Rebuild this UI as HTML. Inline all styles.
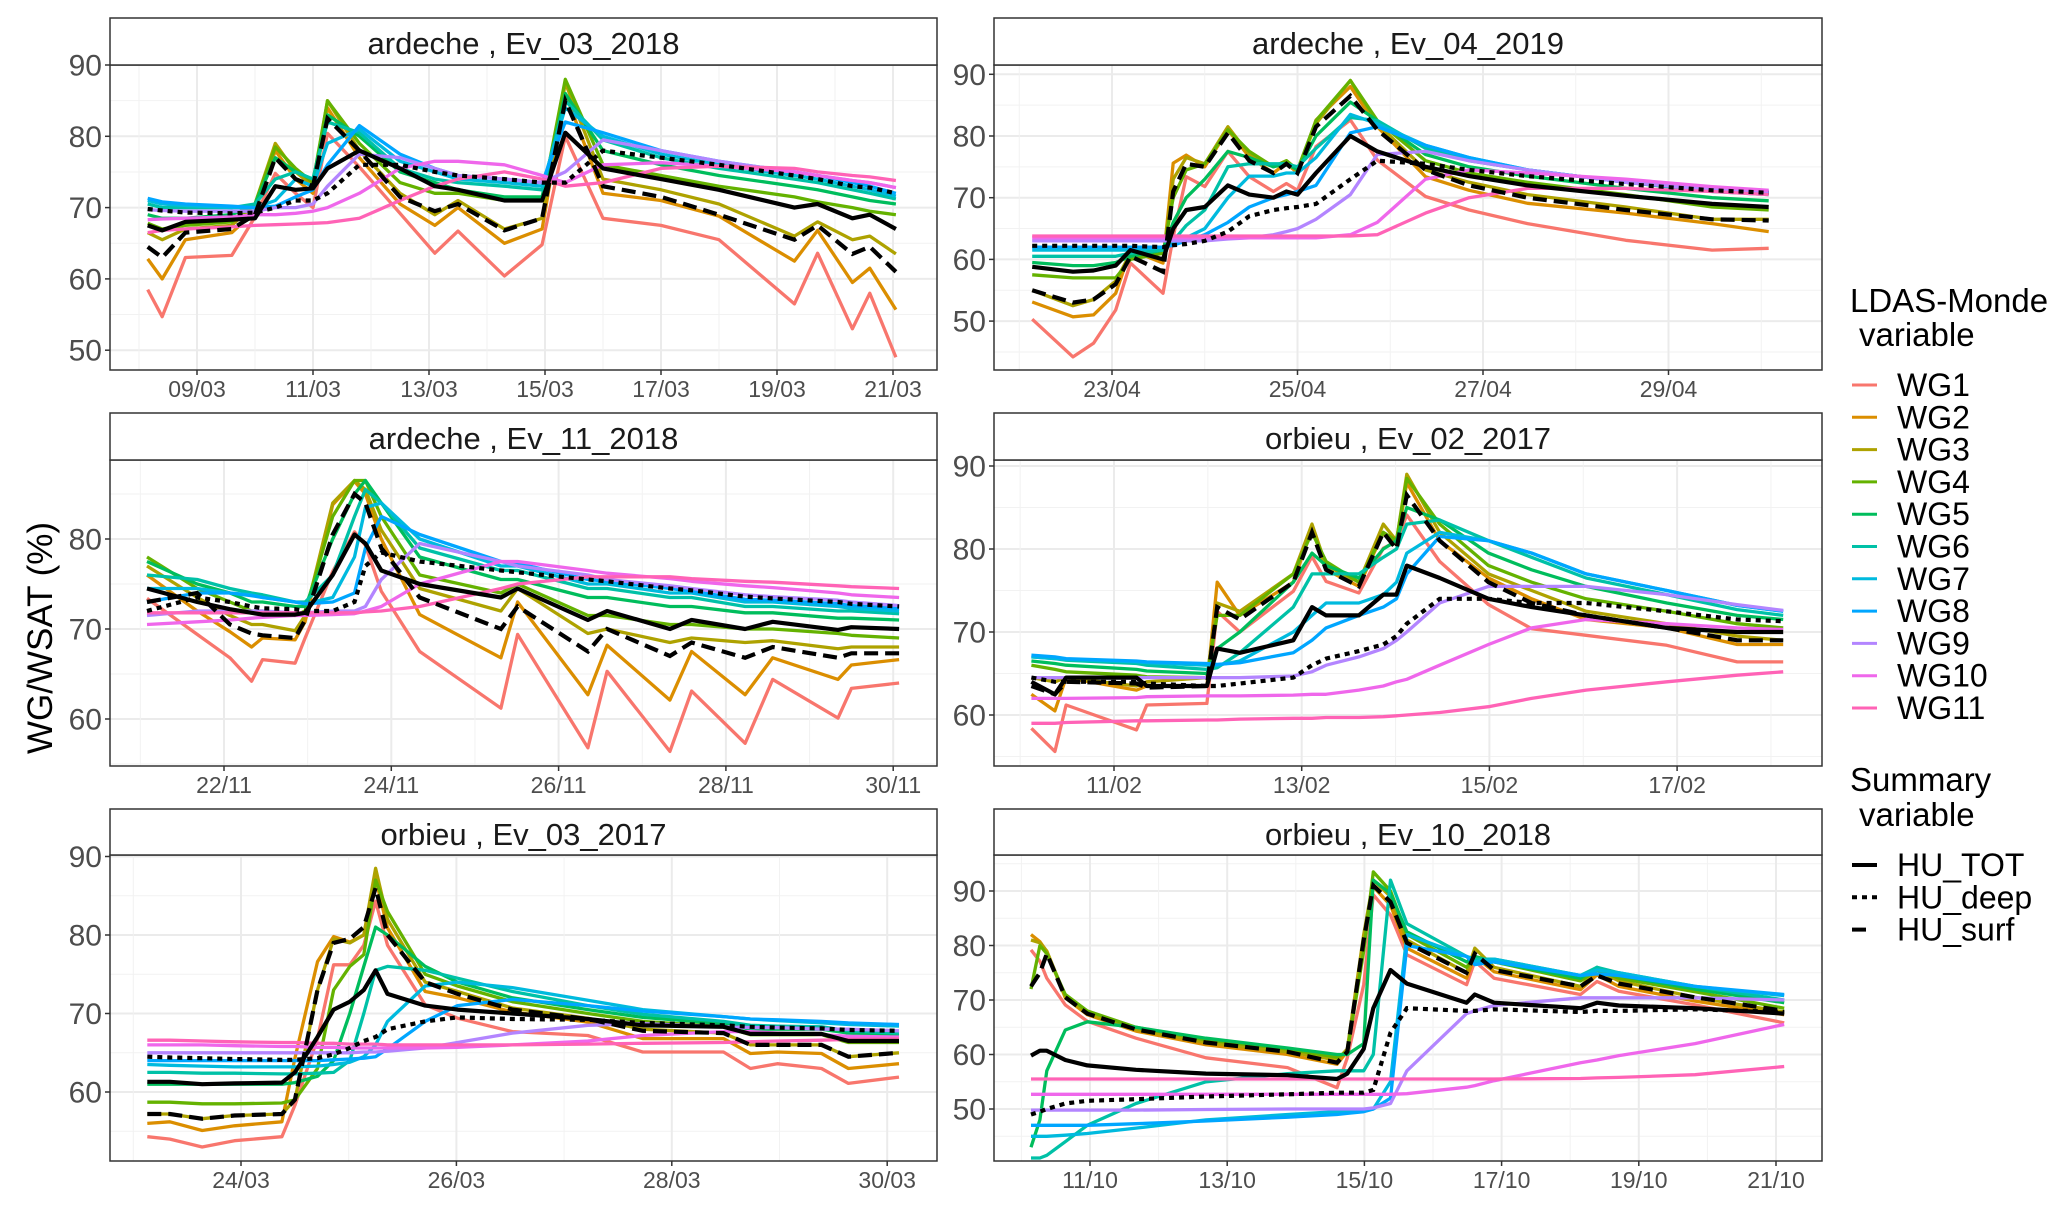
<!DOCTYPE html>
<html><head><meta charset="utf-8"><title>LDAS-Monde soil moisture events</title>
<style>
html,body{margin:0;padding:0;background:#fff;}
svg{display:block;font-family:"Liberation Sans",Arial,sans-serif;}
.tick{fill:#4d4d4d;}
</style></head>
<body>
<svg id="chart" width="2067" height="1206" viewBox="0 0 2067 1206" xmlns="http://www.w3.org/2000/svg">
<rect width="2067" height="1206" fill="#fff"/>
<text transform="translate(52,638) rotate(-90)" text-anchor="middle" font-size="35" fill="#000">WG/WSAT (%)</text>
<g id="panels"></g>
<g id="legend"></g>
</svg>
<script>
const COLORS = ["#F8766D","#DB8E00","#AEA200","#64B200","#00BD5C","#00C1A7","#00BADE","#00A6FF","#B385FF","#EF67EB","#FF63B6"];
const WG_NAMES = ["WG1","WG2","WG3","WG4","WG5","WG6","WG7","WG8","WG9","WG10","WG11"];

// ---- Panel 1: ardeche Ev_03_2018 (t = days since 09/03)
const P1_T = [-0.85,-0.6,-0.2,0.6,1.0,1.35,1.7,2.0,2.25,2.8,3.5,4.1,4.5,5.3,5.95,6.35,7.0,8.0,9.0,10.3,10.7,11.3,11.6,12.05];
const P1_WG = [
[58.5,54.7,63,63.3,68.7,74.8,72,70,80.4,75.7,69.2,63.6,66.7,60.4,64.8,80,68.5,67.5,65.5,56.5,63.6,53,58,49],
[62.8,60,65.5,66.5,69.5,78,74,72,84,77,70.5,67.5,70,65,67,86,72,71,68.8,62.5,66.8,59.5,61.5,55.7],
[66.5,65.5,67,67.5,70.5,79,75,73,85,78,72,69,71,67,68.5,87.5,74,72.5,70.5,66,68,65.5,66,63.5],
[67.8,67,67.5,68,70.5,78.5,75.5,73.5,85,79,73.5,72,72,71,71,88,76,74.5,73,71.5,70.8,70,69.5,69],
[69,68.5,68.5,69,70.5,77,75,74,83,80,75,73.5,72.5,71.5,71.5,86,78,76,74.5,73,72.5,71.5,71,70.5],
[70.5,70,70,70,70.5,74,75,74,82,80.5,75.5,74,73.5,73,72.5,85,79.5,77,75.5,74,73.5,72.5,72,71.2],
[71,70.5,70.3,70,70,71,74,73,79,81,76.5,75,74,73.5,73,84,80,77.5,76,74.5,74,73,72.5,71.6],
[71.3,70.8,70.5,70.2,70,70.2,71.5,72.5,76,81.5,77.5,75.5,74.5,74,73.5,82,80.5,78,76.5,75,74.5,73.5,73,72],
[69.7,69.6,69.5,69.5,69.5,70,70,70.5,73,77.5,77,75.5,74.5,74,73.5,75,79.5,78,76.5,75,74.5,73.8,73.5,72.8],
[68.3,68.4,68.5,68.7,69,69,69.2,69.5,70,72,75.5,76.5,76.5,76,74.5,73.5,76,76.3,75.8,75,74.5,73.8,73.5,72.8],
[66.5,66.8,67,67.3,67.5,67.6,67.7,67.8,67.9,68.5,71,73,74,75,74,73,73.5,75.5,75.8,75.5,75,74.5,74.3,73.8]];
const P1_TOT = [67.5,66.8,68,68.3,68.5,73,72.5,72.7,75.5,78,75.5,73,72.5,71,71,80.5,75.5,74,72.5,70,70.5,68.5,69,67];
const P1_DEEP = [69.8,69.6,69.3,69.2,69.3,70,71,71,72,76,76,75,74.5,74,73.5,73.5,78,77,76,74.5,74,73,72.8,72];
const P1_SURF = [64.5,63,66.5,67,69,77,74,73,82.5,78,71.5,69.5,70.5,66.8,68.5,85,73,71.5,69,65.5,67.5,63.5,64.5,61];
const P1_YTICKS = [50,60,70,80,90];
const P1_XLABELS = ["09/03","11/03","13/03","15/03","17/03","19/03","21/03"];

// ---- Panel 2: ardeche Ev_04_2019 (t = days since 23/04)
const P2_T = [-0.86,-0.42,-0.2,0.04,0.2,0.55,0.66,0.8,1.0,1.25,1.48,1.74,1.88,2.0,2.2,2.57,2.86,3.38,3.85,4.48,5.54,6.47,7.08];
const P2_WG = [
[50.3,44.2,46.4,51.8,59.4,54.5,63.7,73.4,71.8,77.5,73.4,71,72.3,71.2,78.3,82.6,76.1,70.2,68,65.8,63.1,61.5,61.8],
[53.1,50.7,51,54.5,61.5,59.4,75.6,76.9,75,81,76.6,74,75.6,74,82.6,88,81.5,73.4,71.2,69.1,67.5,65.8,64.5],
[55,52.5,53.5,56.5,61,60,73,76.5,75.5,81.5,77,75,76,74.5,82,89,82,74.5,72.5,70.5,68.5,66.5,66.5],
[57.5,57,57,57,60,61,70,74.5,75.5,81,77.5,75,76,74.5,82.5,89,82.5,76,74,72.5,70.5,68.5,68],
[59.5,59,59,59.5,60.5,61.5,66,70,73,77.5,76.5,75,75.5,74.5,80,85.5,82.5,77,75,73.5,71.5,70,69.5],
[60.5,60.5,60.5,60.5,61,61.5,63,65.5,68,75,75.5,75.5,75.5,75,78,83,82.5,78,76,74.5,72.5,71,70.5],
[61.5,61.5,61.5,61.5,61.5,62,62.5,63.5,65,70,73.5,73.5,74,74,76.5,83.5,82,78.5,76.5,74.5,72.5,71.5,70.8],
[62,62,62,62,62,62,62.3,63,64,66,68.5,70,70.5,71,72,80.5,81.5,78.5,76.5,74.5,72.5,71.5,71],
[63,63,63,63,63,63,63,63,63,63.3,63.5,64,64.5,65,66.5,70.5,77,77.5,76,74.5,72.5,71.3,70.8],
[63.5,63.5,63.5,63.5,63.5,63.5,63.5,63.5,63.5,63.5,63.5,63.5,63.5,63.5,63.5,64,66,73,74.5,74,73,71.8,71.2],
[63.8,63.8,63.8,63.8,63.8,63.8,63.8,63.8,63.8,63.8,63.8,63.8,63.8,63.8,63.8,63.8,64,67.5,70,71.5,71.5,71,70.5]];
const P2_TOT = [58.8,58,58.2,59,61.5,60,65,68,68.5,72,70.5,70,71,70.5,74,80,77.5,75,73.5,72,70.3,69,68.5];
const P2_DEEP = [62.2,62.2,62.2,62.2,62.2,62,62.3,62.5,63,64.5,67,68,68.3,68.5,69,73,76,75.5,74.5,73.5,72.2,71.2,70.8];
const P2_SURF = [55,53,53.5,56,60.5,58,71,75.5,75,80.5,76,74,75.5,74,81.5,86.5,81,74.5,72,70,68,66.5,66.3];
const P2_YTICKS = [50,60,70,80,90];
const P2_XLABELS = ["23/04","25/04","27/04","29/04"];

// ---- Panel 3: ardeche Ev_11_2018 (t = days since 22/11)
const P3_T = [-0.92,-0.32,0.07,0.33,0.46,0.85,0.97,1.3,1.56,1.69,1.88,2.34,3.31,3.51,4.35,4.58,5.33,5.59,6.23,6.56,7.34,7.5,8.07];
const P3_WG = [
[73.4,69.4,66.8,64.2,66.6,66.2,69,76.4,80.8,79.3,74.2,67.5,61.2,69.4,56.8,65.3,56.4,63.1,57.3,64.4,60.1,63.4,64],
[76,72,69.7,68,69,68.8,70.8,83.8,86.4,85,80,71.6,66.8,73,62.7,68.2,62.1,67.5,62.7,66.8,64.4,66,66.6],
[77,73.5,71.5,70.5,70.5,69.8,71.5,84,86.5,85.5,81,74.5,72,74.5,69.5,70,68.5,69,68.5,68.7,67.8,68,68],
[78,74.5,73,72,72,71.5,72,82.5,86.5,86.5,82.5,76,74,75,71.5,71.5,70.5,70.5,70,70,69.5,69.3,69],
[77.5,75,74,73,73,72.5,72.5,80,85,86.5,84,78,75.5,75.5,73.5,73.5,72.5,72.5,71.8,71.8,71.2,71.2,71],
[76,75.5,74.5,74,73.8,73,73,76,82.5,85.5,84,79,76.5,76.5,74.5,74.5,73.5,73.5,72.5,72.5,72,72,71.7],
[74.5,74.5,74,73.8,73.5,73,72.8,73.5,78,83.5,84,80,77,77,75,75,74,74,73,73,72.5,72.3,72],
[73,74,74,73.7,73.5,73,72.8,73,74,79,82.5,80.5,77.5,77.3,75.5,75.3,74.5,74.2,73.3,73.2,72.8,72.6,72.3],
[71.5,72,72,72,72,71.8,71.8,72,72,72.5,75.5,79.5,77.5,77,76,75.5,74.8,74.5,73.8,73.6,73.2,73,72.6],
[70.5,70.8,71,71.2,71.3,71.5,71.5,71.6,71.7,72,72.5,75,77.5,77.5,76.5,76.2,75.6,75.3,74.8,74.6,74,73.8,73.5],
[71.8,71.8,71.8,71.8,71.8,71.8,71.8,71.8,71.8,71.9,72,72.5,74.5,75,75.8,75.8,75.8,75.6,75.3,75.2,74.8,74.7,74.5]];
const P3_TOT = [74.5,73,72.2,71.8,71.6,71.6,71.8,76,80.5,79.5,76.5,75,73.5,74.5,71,72,70,71,70,70.8,69.9,70.2,70];
const P3_DEEP = [72,73.5,73,72.5,72.3,72.2,72,72,73,77,78.5,77.5,76.5,76.3,75.5,75.3,74.5,74.3,73.6,73.4,73,72.8,72.5];
const P3_SURF = [73,74,70.5,69.5,69.3,69,71,80.5,85,84,79,73.5,70,72.5,67.5,70,67,68.5,66.8,68,66.8,67.3,67.3];
const P3_YTICKS = [60,70,80];
const P3_XLABELS = ["22/11","24/11","26/11","28/11","30/11"];

// ---- Panel 4: orbieu Ev_02_2017 (t = days since 11/02)
const P4_T = [-0.88,-0.63,-0.51,0.24,0.35,0.99,1.1,1.34,1.91,2.11,2.26,2.61,2.87,3.01,3.12,3.47,3.99,4.45,5.03,5.89,6.64,7.13];
const P4_WG = [
[58.4,55.6,61.2,58.2,61.2,61.4,72.5,70,74.9,79.1,76.1,74.7,80.1,80.9,84.1,78.5,73.3,70.4,69.6,68.4,66.4,66.4],
[62.5,60.5,64.5,63,63.5,63.5,76,72,76,82.5,77.5,75.5,82,80.5,88,81,76.5,74,71.5,70.5,68.5,68.5],
[64.5,64,64.5,63.5,64,64.5,73.5,72.5,77,83,78,76,83,81,89,82,77,75,72.5,71,69.5,69],
[66,65.5,65.2,64.8,64.6,64.5,72,72,77,82,78.5,76,82,81,88.5,83,78,76,74,72.5,71,70.5],
[66.5,66.2,66,65.5,65.3,65,68,70,76,79.5,78,76.5,80,81,85,83.5,79.5,77.5,75.5,73.5,72,71.5],
[67,66.8,66.6,66.2,66,65.5,65.7,67.5,73,77,77,77,79,80,83,83.5,81,79,76.5,74.5,72.7,72],
[67,66.8,66.7,66.4,66.3,66,66,66.5,70,72,73.5,73.5,74.5,76,79.5,82,81,79.5,77,75,73.2,72.5],
[67.2,67,66.8,66.5,66.4,66.2,66.1,66.3,67.5,69,70.5,72,73,74,77,81.5,81,79.5,77,75,73.2,72.5],
[64.5,64.5,64.5,64.5,64.5,64.5,64.5,64.5,64.7,65.2,66,67,68,69,70,73.5,75.5,75.5,75.5,74.5,73.3,72.6],
[62,62,62,62.1,62.2,62.3,62.3,62.3,62.4,62.5,62.5,63,63.5,64,64.3,66,68.5,70.5,71.5,71,70.5,70.3],
[59,59,59.1,59.3,59.3,59.4,59.4,59.5,59.6,59.6,59.7,59.7,59.8,59.9,60,60.3,61,62,63,64,64.8,65.2]];
const P4_TOT = [64,62.5,64.5,64.5,63.5,63.5,68,67.5,69,73,72,72,74.5,74.5,78,76.5,74,73,72,70.5,70,70];
const P4_DEEP = [64.5,64,64,64,63.8,63.5,63.5,63.8,64.5,66,66.8,67.7,68.5,69.5,71,74,74,73.5,73.5,72.5,71.5,71.3];
const P4_SURF = [63.5,62.5,64,63.8,63.3,63.5,73,71.5,76,82,77.5,75.5,82,80,86.5,81,76,73.5,72,70.5,69,69];
const P4_YTICKS = [60,70,80,90];
const P4_XLABELS = ["11/02","13/02","15/02","17/02"];

// ---- Panel 5: orbieu Ev_03_2017 (t = days since 24/03)
const P5_T = [-0.87,-0.66,-0.36,-0.06,0.38,0.5,0.71,0.86,1.01,1.14,1.25,1.36,1.71,2.01,2.52,3.22,3.73,4.48,4.73,4.98,5.39,5.64,6.11];
const P5_WG = [
[54.3,54,53,53.8,54.3,58.3,66.8,76.2,76.2,78.7,84.3,78.7,71.1,69.4,67.7,67.2,65.1,65.1,63,63.6,63,61.1,61.9],
[56,56.2,55.1,55.7,56.2,64.3,76.6,79.8,79.1,80,87.2,80.9,72.8,72,70.2,68.9,66.8,66.8,64.9,65.1,64.9,63,63.6],
[57.2,57.2,56.6,57,57.2,59,73,79.5,79,80,88.5,82,74,72.8,70.7,69.4,68,67.5,66,66,66,64.5,65],
[58.7,58.7,58.5,58.5,58.6,59,63,73,76,77.5,87,83,75,73.5,71.5,70,69,68.3,67.3,67.3,67.3,66.3,66.3],
[61,61,61,61,61,61.2,62,64,70,76,81,80,76,74,72,70.5,69.5,68.7,68,68,68,67.5,67.2],
[62.5,62.5,62.4,62.4,62.3,62.3,62.4,62.5,64,70,75.5,76,75.5,74.5,72.8,71,69.9,69,68.5,68.4,68.3,67.8,67.5],
[63.5,63.4,63.3,63.2,63.2,63.2,63.3,63.5,63.8,64.5,66,69,73.5,74,73.3,71.7,70.5,69.6,69.3,69.1,68.8,68.6,68.4],
[64,64,64,64,64,64,64,64.1,64.2,64.3,64.5,65.5,69,71,71.8,71,70.3,69.6,69.3,69.2,69,68.8,68.6],
[65,65,65,65,65,65,65,65,65,65.1,65.1,65.2,65.6,66.3,67.5,68.5,68.7,68.3,68.2,68.2,68,68,67.8],
[66,66,66,65.9,65.8,65.8,65.7,65.7,65.6,65.6,65.6,65.6,65.6,65.7,66,66.5,67.2,67.7,67.7,67.5,67.3,67.1,67],
[66.6,66.6,66.5,66.4,66.3,66.3,66.2,66.2,66.1,66.1,66.1,66,66,66,66,66.1,66.2,66.3,66.4,66.5,66.6,66.7,66.8]];
const P5_TOT = [61.3,61.3,61,61.1,61.2,62.5,67,70.5,71.5,73,75.5,72.5,71,70.5,70,69.3,68.5,68.3,67.4,67.4,67.4,66.5,66.5];
const P5_DEEP = [64.5,64.4,64.3,64.2,64.1,64.1,64.3,64.8,65.6,66.5,67,68,69,69.5,69.3,69.2,68.8,68.5,68.3,68.2,68.1,67.9,67.8];
const P5_SURF = [57.2,57.2,56.6,57,57.2,59,73,79,79.5,81,86,80,74,72.5,70.5,69.3,67.8,67.5,66,66,66,64.5,65];
const P5_YTICKS = [60,70,80,90];
const P5_XLABELS = ["24/03","26/03","28/03","30/03"];

// ---- Panel 6: orbieu Ev_10_2018 (t = days since 11/10)
const P6_T = [-0.86,-0.73,-0.63,-0.36,-0.04,0.67,1.69,2.88,3.6,3.75,3.99,4.13,4.38,4.62,5.49,5.61,5.89,7.15,7.39,7.71,8.82,10.12];
const P6_WG = [
[79.2,77.1,74,69.1,66.1,63,59.4,57.6,53.9,59.4,72.8,89.3,85.6,78.3,72.8,77.1,74,71,73.4,71.6,69.1,65.8],
[82,80.7,78.9,70.4,67.3,64.3,61.8,60,58.2,60.6,81.3,90.8,87.4,79.5,74,78,75.2,71.9,74.6,72.5,69.8,67.3],
[81,80.5,79,70.7,67.5,64.6,62.2,60.5,59,61,82,92,89,81,75,79.5,76,72.5,75.5,73.5,70.5,67.8],
[72,80,78.5,71,68,65,62.7,61,59.5,60.5,79,93.5,90,82,76,78,77,73.5,75.5,74,71.5,68.5],
[43,48,57,64.5,66,65,63,61.2,60,60,62,92,89.5,82.5,77,78,77,74,76,74.5,72,69.5],
[41,41,41.5,44,47,51,55,56.5,57,57,57,60,92,84,78,77.5,77.5,74.5,76,75,72.5,70],
[45,45,45,45.2,45.5,46.5,48,49,49.5,49.5,49.7,50,55,82,78,77,77.5,74.5,75.5,75,72.5,70.8],
[47,47,47,47,47,47.3,47.8,48.5,49,49.2,49.5,50,52,80,78,76.5,77,74.5,74.8,74.5,72.5,71],
[49.8,49.8,49.8,49.8,49.8,49.8,49.9,50,50,50,50,50.2,51,57,67.5,68,69,70.4,70.4,70.4,70.4,70],
[52.7,52.7,52.7,52.7,52.7,52.7,52.7,52.7,52.7,52.7,52.7,52.7,52.7,52.8,54,54.3,55.2,58.5,59,59.8,62,65.5],
[55.5,55.5,55.5,55.5,55.5,55.5,55.5,55.5,55.5,55.5,55.5,55.5,55.5,55.5,55.5,55.5,55.5,55.6,55.7,55.8,56.3,57.8]];
const P6_TOT = [59.8,60.7,60.7,59,58,57.2,56.5,56.2,55.5,56.5,61,68.5,75.5,73,69.5,71,69.5,68.5,69.5,69,68.5,67.5];
const P6_DEEP = [49,49.5,50,51,51.5,51.8,52.3,52.7,53,53,53,53.5,64,68.5,68,68,68.3,67.8,68,68,68.3,67.8];
const P6_SURF = [72.5,75,78.5,70.5,67.5,64.6,62.2,60.5,58.5,60.5,81,91,88,80.5,75,78.5,75.5,72.5,74.5,73,70.5,68];
const P6_YTICKS = [50,60,70,80,90];
const P6_XLABELS = ["11/10","13/10","15/10","17/10","19/10","21/10"];

const NS = "http://www.w3.org/2000/svg";
function mk(tag, attrs, parent){
  const e = document.createElementNS(NS, tag);
  for (const k in attrs) e.setAttribute(k, attrs[k]);
  if (parent) parent.appendChild(e);
  return e;
}

function drawPanel(id, cfg, T, WG, TOT, DEEP, SURF, YT, XL){
  const root = document.getElementById("panels");
  const g = mk("g", {}, root);
  
  
  const sx = t => cfg.xOrg + t * cfg.pxDay;
  const sy = v => cfg.yRef - (v - cfg.vRef) * cfg.pxUnit;
  const W = cfg.x1 - cfg.x0;
  mk("rect", {x:cfg.x0, y:cfg.pTop, width:W, height:cfg.pBot-cfg.pTop, fill:"#fff"}, g);
  const grid = mk("g", {}, g);
  
  
  const vBot = cfg.vRef - (cfg.pBot - cfg.yRef) / cfg.pxUnit;
  const vTop = cfg.vRef + (cfg.yRef - cfg.pTop) / cfg.pxUnit;
  for (let v = Math.ceil(vBot/5)*5; v <= vTop; v += 5){
    const major = v % 10 === 0;
    mk("line", {x1:cfg.x0, x2:cfg.x1, y1:sy(v), y2:sy(v), stroke: major?"#ebebeb":"#f2f2f2", "stroke-width": major?2:1}, grid);
  }
  const tMin = (cfg.x0 - cfg.xOrg)/cfg.pxDay, tMax = (cfg.x1 - cfg.xOrg)/cfg.pxDay;
  for (let d = Math.ceil(tMin); d <= tMax; d++){
    const major = d % 2 === 0;
    mk("line", {x1:sx(d), x2:sx(d), y1:cfg.pTop, y2:cfg.pBot, stroke: major?"#ebebeb":"#f2f2f2", "stroke-width": major?2:1}, grid);
  }
  const cp = mk("clipPath", {id:"clip"+id}, g);
  mk("rect", {x:cfg.x0, y:cfg.pTop, width:W, height:cfg.pBot-cfg.pTop}, cp);
  const lines = mk("g", {"clip-path":"url(#clip"+id+")"}, g);
  function path(vals){
    const n = Math.min(T.length, vals.length);
    let d = "";
    for (let i = 0; i < n; i++) d += (i? "L":"M") + sx(T[i]).toFixed(1) + "," + sy(vals[i]).toFixed(1);
    return d;
  }
  for (let k = 0; k < WG.length; k++){
    const p = mk("path", {d:path(WG[k]), fill:"none", stroke:COLORS[k], "stroke-width":3.3, "stroke-linejoin":"round"}, lines);
    
    
  }
  const pt = mk("path", {d:path(TOT), fill:"none", stroke:"#000", "stroke-width":4.2, "stroke-linejoin":"round"}, lines);
  
  
  const pd = mk("path", {d:path(DEEP), fill:"none", stroke:"#000", "stroke-width":4.2, "stroke-dasharray":"5,5"}, lines);
  
  
  const ps = mk("path", {d:path(SURF), fill:"none", stroke:"#000", "stroke-width":4.2, "stroke-dasharray":"14,7"}, lines);
  
  
  mk("rect", {x:cfg.x0, y:cfg.pTop, width:W, height:cfg.pBot-cfg.pTop, fill:"none", stroke:"#333", "stroke-width":1.5}, g);
  const strip = mk("rect", {x:cfg.x0, y:cfg.sTop, width:W, height:cfg.pTop-cfg.sTop, fill:"#fff", stroke:"#333", "stroke-width":1.5}, g);
  
  
  const st = mk("text", {x:cfg.x0 + W/2, y:cfg.sTop + 36, "text-anchor":"middle", "font-size":31, fill:"#1a1a1a"}, g);
  st.textContent = cfg.title;
  
  
  YT.forEach(v => {
    mk("line", {x1:cfg.x0-5, x2:cfg.x0, y1:sy(v), y2:sy(v), stroke:"#333", "stroke-width":1.5}, g);
    const tx = mk("text", {x:cfg.x0-8, y:sy(v)+10.5, "text-anchor":"end", "font-size":30, class:"tick"}, g);
    tx.textContent = v;
    
    
  });
  XL.forEach((lab, i) => {
    const x = sx(i*2);
    mk("line", {x1:x, x2:x, y1:cfg.pBot, y2:cfg.pBot+5, stroke:"#333", "stroke-width":1.5}, g);
    const tx = mk("text", {x:x, y:cfg.pBot+27, "text-anchor":"middle", "font-size":23, class:"tick"}, g);
    tx.textContent = lab;
    
    
  });
}

drawPanel("ardeche-ev-03-2018", {title:"ardeche , Ev_03_2018", x0:110,x1:937,sTop:18,pTop:65,pBot:370,xOrg:197,pxDay:58,yRef:65,vRef:90,pxUnit:7.13}, P1_T,P1_WG,P1_TOT,P1_DEEP,P1_SURF,P1_YTICKS,P1_XLABELS);
drawPanel("ardeche-ev-04-2019", {title:"ardeche , Ev_04_2019", x0:994,x1:1822,sTop:18,pTop:65,pBot:370,xOrg:1112,pxDay:92.75,yRef:136,vRef:80,pxUnit:6.17}, P2_T,P2_WG,P2_TOT,P2_DEEP,P2_SURF,P2_YTICKS,P2_XLABELS);
drawPanel("ardeche-ev-11-2018", {title:"ardeche , Ev_11_2018", x0:110,x1:937,sTop:413,pTop:460,pBot:766,xOrg:224,pxDay:83.65,yRef:539,vRef:80,pxUnit:9.0}, P3_T,P3_WG,P3_TOT,P3_DEEP,P3_SURF,P3_YTICKS,P3_XLABELS);
drawPanel("orbieu-ev-02-2017", {title:"orbieu , Ev_02_2017", x0:994,x1:1822,sTop:413,pTop:460,pBot:766,xOrg:1114,pxDay:93.85,yRef:549,vRef:80,pxUnit:8.3}, P4_T,P4_WG,P4_TOT,P4_DEEP,P4_SURF,P4_YTICKS,P4_XLABELS);
drawPanel("orbieu-ev-03-2017", {title:"orbieu , Ev_03_2017", x0:110,x1:937,sTop:809,pTop:855,pBot:1161,xOrg:241,pxDay:107.7,yRef:935,vRef:80,pxUnit:7.85}, P5_T,P5_WG,P5_TOT,P5_DEEP,P5_SURF,P5_YTICKS,P5_XLABELS);
drawPanel("orbieu-ev-10-2018", {title:"orbieu , Ev_10_2018", x0:994,x1:1822,sTop:809,pTop:855,pBot:1161,xOrg:1090,pxDay:68.6,yRef:891,vRef:90,pxUnit:5.45}, P6_T,P6_WG,P6_TOT,P6_DEEP,P6_SURF,P6_YTICKS,P6_XLABELS);

(function(){
  const lg = document.getElementById("legend");
  const t1 = mk("text", {x:1850, y:312, "font-size":33, fill:"#000"}, lg);
  t1.textContent = "LDAS-Monde";
  
  
  const t2 = mk("text", {x:1859, y:346, "font-size":33, fill:"#000"}, lg);
  t2.textContent = "variable";
  
  
  WG_NAMES.forEach((n, k) => {
    const by = 396 + k*32.3;
    const e = mk("g", {}, lg);
    
    
    mk("line", {x1:1852, x2:1877, y1:by-11, y2:by-11, stroke:COLORS[k], "stroke-width":3}, e);
    const tx = mk("text", {x:1897, y:by, "font-size":32, fill:"#000"}, e);
    tx.textContent = n;
  });
  const s1 = mk("text", {x:1850, y:791, "font-size":33, fill:"#000"}, lg);
  s1.textContent = "Summary";
  
  
  const s2 = mk("text", {x:1859, y:826, "font-size":33, fill:"#000"}, lg);
  s2.textContent = "variable";
  
  
  const HU = [["HU_TOT","none"],["HU_deep","5,5"],["HU_surf","14,20"]];
  HU.forEach((h, k) => {
    const by = 876 + k*32.3;
    const e = mk("g", {}, lg);
    
    
    mk("line", {x1:1852, x2:1877, y1:by-11, y2:by-11, stroke:"#000", "stroke-width":4, "stroke-dasharray":h[1]}, e);
    const tx = mk("text", {x:1897, y:by, "font-size":32, fill:"#000"}, e);
    tx.textContent = h[0];
  });
})();
</script>
</body></html>
